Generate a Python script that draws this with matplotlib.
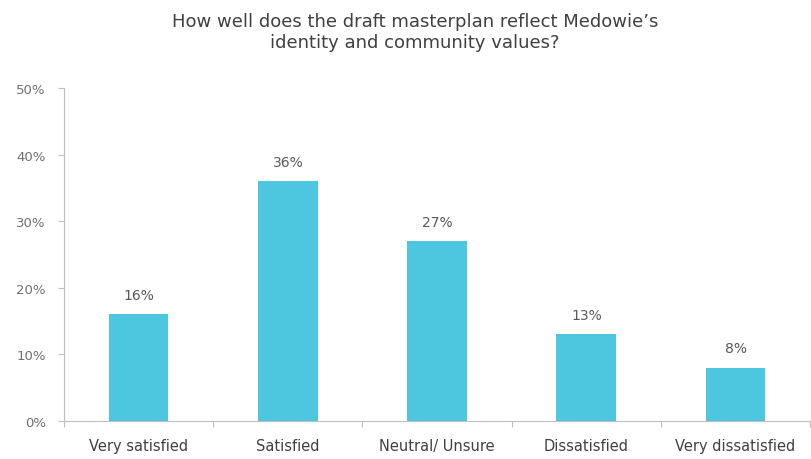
import numpy as np
import matplotlib.pyplot as plt

categories = ['Very satisfied', 'Satisfied', 'Neutral/ Unsure', 'Dissatisfied', 'Very dissatisfied']
values = [16, 36, 27, 13, 8]
yticks = [0, 10, 20, 30, 40, 50]

bar_color = '#4dc7e0'
text_color = '#595959'
axis_color = '#bfbfbf'

plt.rcParams['font.family'] = 'DejaVu Sans'

fig = plt.figure(figsize=(8.12, 4.6), dpi=100)
ax = fig.add_axes([0.0788, 0.0826, 0.919, 0.7239])

x = np.arange(len(categories))
ax.bar(x, values, width=0.4, color=bar_color)

for xi, v in zip(x, values):
    ax.annotate(f'{v}%', (xi, v), xytext=(0, 14), textcoords='offset points',
                ha='center', va='center', fontsize=10, color=text_color)

ax.set_xlim(-0.5, len(categories) - 0.5)
ax.set_ylim(0, 50)
ax.set_yticks(yticks)
ax.set_yticklabels([f'{t}%' for t in yticks], fontsize=9.5, color='#707070')
ax.set_xticks(x)
ax.set_xticklabels(categories, fontsize=10.5, color='#404040')
ax.tick_params(axis='x', length=0, pad=12)
ax.tick_params(axis='y', length=4, color=axis_color, width=0.8, pad=9)

# boundary ticks between categories
ax.set_xticks(np.arange(-0.5, len(categories)), minor=True)
ax.tick_params(axis='x', which='minor', length=4, color=axis_color, width=0.8)

for side in ['top', 'right']:
    ax.spines[side].set_visible(False)
for side in ['left', 'bottom']:
    ax.spines[side].set_color(axis_color)
    ax.spines[side].set_linewidth(0.8)

fig.text(0.511, 0.972, "How well does the draft masterplan reflect Medowie\u2019s\nidentity and community values?",
         ha='center', va='top', fontsize=13, color='#404040', linespacing=1.25)

fig.savefig('out.png', dpi=100)
